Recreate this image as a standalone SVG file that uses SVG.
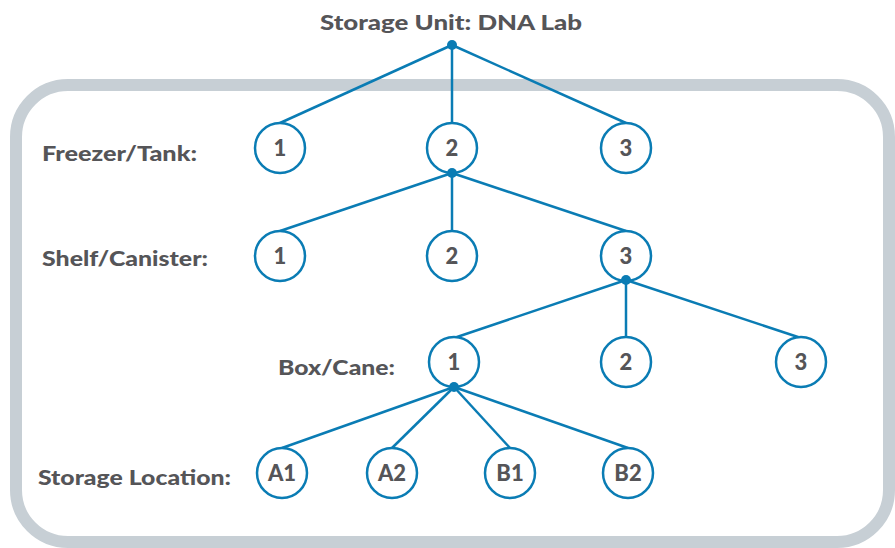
<svg xmlns="http://www.w3.org/2000/svg" width="895" height="548" viewBox="0 0 895 548">
<style>
.frame{fill:none;stroke:#c7cfd5;stroke-width:12}
.node circle{fill:#fff;stroke:#0a7cb4;stroke-width:2.5}
.node text{font-family:Lato,"Open Sans","Liberation Sans",sans-serif;font-weight:900;font-size:22px;fill:#555558;text-anchor:middle}
.lbl{font-family:Lato,"Open Sans","Liberation Sans",sans-serif;font-weight:900;font-size:20.5px;fill:#555558}
#connectors line{stroke:#0a7cb4;stroke-width:2.5}
#connectors circle{fill:#0a7cb4}
</style>
<rect class="frame" x="16" y="85" width="873" height="457" rx="52"/>
<text class="lbl" x="451" y="30" text-anchor="middle" font-size="21" textLength="262" lengthAdjust="spacingAndGlyphs">Storage Unit: DNA Lab</text>
<text class="lbl" x="42" y="161" textLength="155" lengthAdjust="spacingAndGlyphs">Freezer/Tank:</text>
<text class="lbl" x="42" y="266" textLength="166" lengthAdjust="spacingAndGlyphs">Shelf/Canister:</text>
<text class="lbl" x="278" y="375" textLength="117" lengthAdjust="spacingAndGlyphs">Box/Cane:</text>
<text class="lbl" x="38" y="485" textLength="193" lengthAdjust="spacingAndGlyphs">Storage Location:</text>
<g id="connectors">
<line x1="452" y1="45" x2="280" y2="123"/>
<line x1="452" y1="45" x2="452" y2="123"/>
<line x1="452" y1="45" x2="626" y2="123"/>
<line x1="452" y1="173" x2="280" y2="231"/>
<line x1="452" y1="173" x2="452" y2="231"/>
<line x1="452" y1="173" x2="626" y2="231"/>
<line x1="626" y1="280" x2="454" y2="338"/>
<line x1="626" y1="280" x2="626" y2="338"/>
<line x1="626" y1="280" x2="801" y2="338"/>
<line x1="454" y1="387" x2="282" y2="448"/>
<line x1="454" y1="387" x2="392" y2="448"/>
<line x1="454" y1="387" x2="510" y2="448"/>
<line x1="454" y1="387" x2="628" y2="448"/>
</g>
<g id="f1" class="node"><circle cx="280" cy="148" r="25"/><text x="280" y="156">1</text></g>
<g id="f2" class="node"><circle cx="452" cy="148" r="25"/><text x="452" y="156">2</text></g>
<g id="f3" class="node"><circle cx="626" cy="148" r="25"/><text x="626" y="156">3</text></g>
<g id="s1" class="node"><circle cx="280" cy="256" r="25"/><text x="280" y="264">1</text></g>
<g id="s2" class="node"><circle cx="452" cy="256" r="25"/><text x="452" y="264">2</text></g>
<g id="s3" class="node"><circle cx="626" cy="256" r="25"/><text x="626" y="264">3</text></g>
<g id="b1" class="node"><circle cx="454" cy="362" r="25"/><text x="454" y="370">1</text></g>
<g id="b2" class="node"><circle cx="626" cy="362" r="25"/><text x="626" y="370">2</text></g>
<g id="b3" class="node"><circle cx="801" cy="362" r="25"/><text x="801" y="370">3</text></g>
<g id="lA1" class="node"><circle cx="282" cy="473" r="25"/><text x="282" y="481">A1</text></g>
<g id="lA2" class="node"><circle cx="392" cy="473" r="25"/><text x="392" y="481">A2</text></g>
<g id="lB1" class="node"><circle cx="510" cy="473" r="25"/><text x="510" y="481">B1</text></g>
<g id="lB2" class="node"><circle cx="628" cy="473" r="25"/><text x="628" y="481">B2</text></g>
<g id="dots">
<circle cx="452" cy="45" r="5" fill="#0a7cb4"/>
<circle cx="452" cy="173" r="5" fill="#0a7cb4"/>
<circle cx="626" cy="280" r="5" fill="#0a7cb4"/>
<circle cx="454" cy="387" r="5" fill="#0a7cb4"/>
</g>
</svg>
